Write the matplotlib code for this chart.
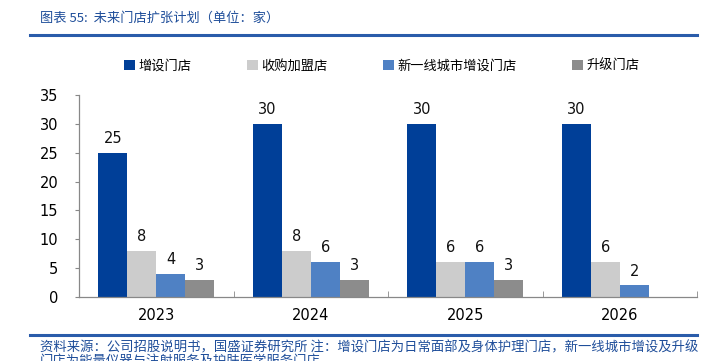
import matplotlib
matplotlib.use("Agg")
import matplotlib.pyplot as plt
import numpy as np
from matplotlib.patches import Patch
from matplotlib.lines import Line2D

plt.rcParams['font.family'] = ['DejaVu Sans', 'Noto Sans CJK SC']

years = ['2023', '2024', '2025', '2026']
series_names = ['增设门店', '收购加盟店', '新一线城市增设门店', '升级门店']
new_stores = [25, 30, 30, 30]
acquired = [8, 8, 6, 6]
tier1_new = [4, 6, 6, 2]
upgraded = [3, 3, 3, None]
colors = ['#003F98', '#CCCCCC', '#4F81C4', '#8C8C8C']

title = '图表 55:  未来门店扩张计划（单位：家）'
footer1 = '资料来源：公司招股说明书，国盛证券研究所 注：增设门店为日常面部及身体护理门店，新一线城市增设及升级'
footer2 = '门店为能量仪器与注射服务及护肤医学服务门店'

fig = plt.figure(figsize=(7.08, 3.61), dpi=100)
ax = fig.add_axes([79/708, 1-297/361, (697-79)/708, (297-95)/361])

x = np.arange(len(years))
w = 0.1875
all_series = [new_stores, acquired, tier1_new, upgraded]
for i, (vals, c) in enumerate(zip(all_series, colors)):
    xs = [xi + (i - 1.5) * w for xi, v in zip(x, vals) if v is not None]
    vs = [v for v in vals if v is not None]
    bars = ax.bar(xs, vs, width=w, color=c, zorder=2)
    for b, v in zip(bars, vs):
        ax.text(b.get_x() + b.get_width()/2, v + 1.2, str(v), ha='center', va='bottom',
                fontsize=10.5, color='#111111')

ax.set_xlim(-0.5, 3.5)
ax.set_ylim(0, 35)
ax.set_yticks(range(0, 36, 5))
ax.set_xticks(x)
ax.set_xticklabels(years, fontsize=10.5)
ax.tick_params(axis='y', labelsize=10.5, length=3, color='#888888', pad=12)
ax.tick_params(axis='x', length=0, pad=8)
# category boundary ticks
ax.set_xticks(np.arange(-0.5, 3.6, 1), minor=True)
ax.tick_params(axis='x', which='minor', length=4, color='#888888', direction='in')
for s in ['top', 'right']:
    ax.spines[s].set_visible(False)
for s in ['left', 'bottom']:
    ax.spines[s].set_color('#888888')
    ax.spines[s].set_linewidth(0.9)

handles = [Patch(facecolor=c, edgecolor='none') for c in colors]
fig.legend(handles, series_names, loc='center', bbox_to_anchor=(382/708, 1-66/361),
           ncol=4, frameon=False, prop={'family': 'Noto Sans CJK SC', 'size': 9.5},
           handlelength=0.8, handleheight=0.8, handletextpad=0.3, columnspacing=4.2)

fig.text(40/708, 1-18/361, title, ha='left', va='center', fontsize=9.5,
         color='#1F4E9A', family=['Noto Sans CJK SC', 'DejaVu Sans'])
fig.add_artist(Line2D([30/708, 697/708], [1-35/361, 1-35/361], color='#2A5CAA', lw=2.2))
fig.add_artist(Line2D([30/708, 697/708], [1-335/361, 1-335/361], color='#2A5CAA', lw=2.2))
fig.text(40/708, 1-347/361, footer1, ha='left', va='center', fontsize=9.6,
         color='#1F4E9A', family=['Noto Sans CJK SC', 'DejaVu Sans'])
fig.text(40/708, 1-361/361, footer2, ha='left', va='center', fontsize=9.6,
         color='#1F4E9A', family=['Noto Sans CJK SC', 'DejaVu Sans'])

fig.savefig('out.png', dpi=100)
